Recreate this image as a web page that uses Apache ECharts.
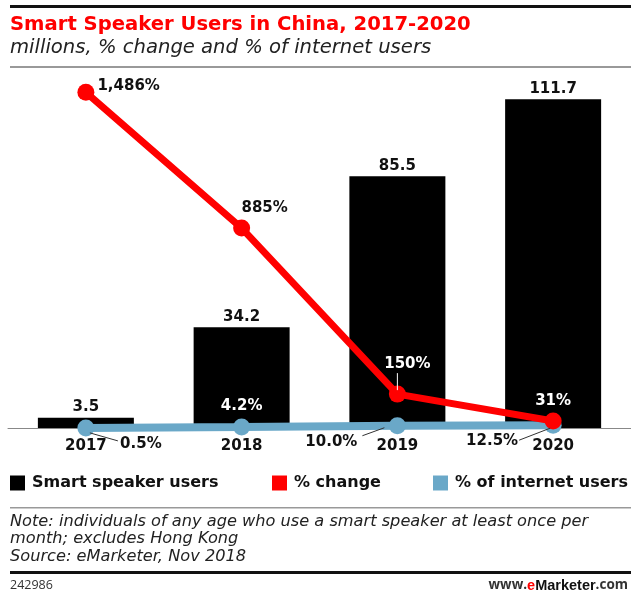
<!DOCTYPE html>
<html>
<head>
<meta charset="utf-8">
<script src="https://cdn.jsdelivr.net/npm/echarts@6/dist/echarts.min.js"></script>
<style>
html,body{margin:0;padding:0;background:#fff;}
#chart{width:631px;height:593px;}
</style>
</head>
<body>
<div id="chart"></div>
<script>
const categories = ['2017', '2018', '2019', '2020'];
const users = [3.5, 34.2, 85.5, 111.7];
const pctChange = [1486, 885, 150, 31];
const pctInternet = [0.5, 4.2, 10.0, 12.5];
const usersLabels = ['3.5', '34.2', '85.5', '111.7'];
const changeLabels = ['1,486%', '885%', '150%', '31%'];
const internetLabels = ['0.5%', '4.2%', '10.0%', '12.5%'];

const RED = '#ff0000';
const BLUE = '#6aa8c8';
const FONT = '"DejaVu Sans", "Liberation Sans", sans-serif';
const IFONT = '"DejaVu Sans", "Open Sans", sans-serif';

const labelBase = { fontFamily: FONT, fontWeight: 'bold', fontSize: 15, color: '#111' };

const redLabelCfg = [
  { position: 'right', distance: 3, offset: [0, -6] },
  { position: 'top', distance: 4, offset: [23, 0] },
  { position: 'top', distance: 14, offset: [10, 0], color: '#fff' },
  { position: 'top', distance: 4, offset: [0, 0], color: '#fff' }
];
const blueLabelCfg = [
  { position: 'inside', offset: [55, 16] },
  { position: 'top', distance: 5, color: '#fff' },
  { position: 'inside', offset: [-66, 16] },
  { position: 'inside', offset: [-61, 16] }
];
// leader lines: [seriesIndex, dataIndex, from offset, to offset, colour]
const leaders = [
  [1, 0, [4, 5], [32, 13], '#333'],
  [1, 2, [-13, 2], [-35, 10], '#333'],
  [1, 3, [-3, 3], [-34, 15], '#333'],
  [2, 2, [0, -4], [0, -21], '#fff']
];

const baseGraphic = [
  { id: 'r1', type: 'rect', shape: { x: 10, y: 5, width: 621, height: 3 }, style: { fill: '#111' } },
  { id: 'r2', type: 'rect', shape: { x: 10, y: 66, width: 621, height: 2 }, style: { fill: '#999' } },
  { id: 'r3', type: 'rect', shape: { x: 10, y: 507, width: 621, height: 1.5 }, style: { fill: '#999' } },
  { id: 'r4', type: 'rect', shape: { x: 10, y: 571, width: 621, height: 3 }, style: { fill: '#111' } }
];

const chart = echarts.init(document.getElementById('chart'), null, { renderer: 'canvas' });

const option = {
  animation: false,
  backgroundColor: '#fff',
  title: [
    { text: 'Smart Speaker Users in China, 2017-2020', left: 10, top: 15, padding: 0,
      textStyle: { fontFamily: FONT, fontWeight: 'bold', fontSize: 19.6, color: RED } },
    { text: 'millions, % change and % of internet users', left: 10, top: 38, padding: 0,
      textStyle: { fontFamily: IFONT, fontStyle: 'italic', fontWeight: 'normal', fontSize: 19.6, color: '#222' } },
    { text: 'Note: individuals of any age who use a smart speaker at least once per\nmonth; excludes Hong Kong\nSource: eMarketer, Nov 2018', left: 10, top: 513, padding: 0,
      textStyle: { fontFamily: IFONT, fontStyle: 'italic', fontWeight: 'normal', fontSize: 16.2, lineHeight: 17.5, color: '#222' } },
    { text: '242986', left: 10, top: 579, padding: 0,
      textStyle: { fontFamily: '"Open Sans", sans-serif', fontWeight: 'normal', fontSize: 12.5, color: '#333' } },
    { text: '{a|www.}{b|e}{c|Marketer}{a|.com}', right: 3, top: 578, padding: 0,
      textStyle: { rich: {
        a: { fontFamily: '"Open Sans", sans-serif', fontSize: 13.5, color: '#333' },
        b: { fontFamily: '"Liberation Sans", sans-serif', fontSize: 14.5, fontWeight: 'bold', color: RED },
        c: { fontFamily: '"Liberation Sans", sans-serif', fontSize: 14.5, fontWeight: 'bold', color: '#111' }
      } } }
  ],
  graphic: baseGraphic,
  legend: [
    { data: ['Smart speaker users'], left: 10, top: 475 },
    { data: ['% change'], left: 272, top: 475 },
    { data: ['% of internet users'], left: 433, top: 475 }
  ].map(l => Object.assign({
    icon: 'rect', itemWidth: 15, itemHeight: 15, selectedMode: false, padding: 0,
    textStyle: { fontFamily: FONT, fontWeight: 'bold', fontSize: 16, color: '#111', padding: [0, 0, 0, 2] }
  }, l)),
  grid: { left: 8, top: 70, width: 624, height: 358, containLabel: false },
  xAxis: {
    type: 'category', data: categories, boundaryGap: true,
    axisLine: { show: true, lineStyle: { color: '#888', width: 1 } },
    axisTick: { show: false },
    axisLabel: { margin: 11, fontFamily: FONT, fontWeight: 'bold', fontSize: 15, color: '#111' },
    z: 1
  },
  yAxis: [
    { type: 'value', min: 0, max: 121.6, show: false, splitLine: { show: false } },
    { type: 'value', min: 0, max: 1585, show: false, splitLine: { show: false } }
  ],
  series: [
    {
      name: 'Smart speaker users', type: 'bar', yAxisIndex: 0, barWidth: 96,
      itemStyle: { color: '#000' },
      data: users,
      label: Object.assign({ show: true, position: 'top', distance: 3,
        formatter: p => usersLabels[p.dataIndex] }, labelBase),
      z: 2
    },
    {
      name: '% of internet users', type: 'line', yAxisIndex: 1,
      symbol: 'circle', symbolSize: 17,
      lineStyle: { color: BLUE, width: 8 },
      itemStyle: { color: BLUE },
      data: pctInternet.map((v, i) => ({
        value: v,
        label: Object.assign({ show: true, formatter: internetLabels[i] }, labelBase, blueLabelCfg[i])
      })),
      z: 3
    },
    {
      name: '% change', type: 'line', yAxisIndex: 1,
      symbol: 'circle', symbolSize: 17,
      lineStyle: { color: RED, width: 7 },
      itemStyle: { color: RED },
      data: pctChange.map((v, i) => ({
        value: v,
        label: Object.assign({ show: true, formatter: changeLabels[i] }, labelBase, redLabelCfg[i])
      })),
      z: 4
    }
  ]
};
chart.setOption(option);

// leader lines anchored to the data points through the chart's own scales
const seriesValues = { 1: pctInternet, 2: pctChange };
const leaderGraphics = leaders.map((l, k) => {
  const [si, di, a, b, col] = l;
  const p = chart.convertToPixel({ seriesIndex: si }, [di, seriesValues[si][di]]);
  return {
    id: 'lead' + k, type: 'line', z: 100,
    shape: { x1: p[0] + a[0], y1: p[1] + a[1], x2: p[0] + b[0], y2: p[1] + b[1] },
    style: { stroke: col, lineWidth: 1 }
  };
});
chart.setOption({ graphic: baseGraphic.concat(leaderGraphics) });
</script>
</body>
</html>
